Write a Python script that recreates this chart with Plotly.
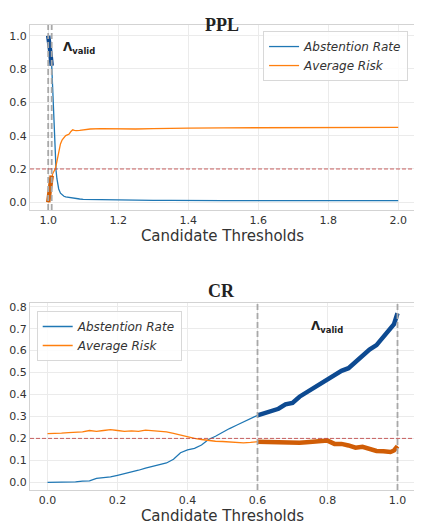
import plotly.graph_objects as go

# ---------------- data ----------------
ppl_thresholds = [1.0, 1.0025, 1.005, 1.0075, 1.01, 1.0125, 1.015, 1.0175, 1.02, 1.0225,
                  1.025, 1.03, 1.035, 1.04, 1.045, 1.05, 1.055, 1.06, 1.065, 1.07,
                  1.075, 1.08, 1.09, 1.1, 1.12, 1.15, 1.2, 1.25, 1.3, 1.35,
                  1.4, 1.5, 1.6, 1.7, 1.8, 1.9, 2.0]
ppl_abstention = [1.0, 0.97, 0.92, 0.87, 0.82, 0.7, 0.55, 0.38, 0.26, 0.19,
                  0.14, 0.08, 0.055, 0.042, 0.036, 0.032, 0.03, 0.029, 0.028, 0.028,
                  0.026, 0.024, 0.02, 0.018, 0.017, 0.016, 0.015, 0.013, 0.012, 0.012,
                  0.01, 0.01, 0.01, 0.01, 0.01, 0.01, 0.01]
ppl_risk = [0.0, 0.04, 0.08, 0.12, 0.16, 0.17, 0.18, 0.19, 0.2, 0.22,
            0.25, 0.31, 0.35, 0.375, 0.39, 0.4, 0.405, 0.41, 0.425, 0.435,
            0.432, 0.43, 0.432, 0.435, 0.44, 0.442, 0.44, 0.44, 0.442, 0.445,
            0.445, 0.447, 0.448, 0.448, 0.449, 0.45, 0.45]
ppl_valid = [1.0, 1.01]

cr_thresholds = [0.0, 0.02, 0.04, 0.06, 0.08, 0.10, 0.12, 0.14, 0.16, 0.18,
                 0.20, 0.22, 0.24, 0.26, 0.28, 0.30, 0.32, 0.34, 0.36, 0.38,
                 0.40, 0.42, 0.44, 0.46, 0.48, 0.50, 0.52, 0.54, 0.56, 0.58,
                 0.60, 0.62, 0.64, 0.66, 0.68, 0.70, 0.72, 0.74, 0.76, 0.78,
                 0.80, 0.82, 0.84, 0.86, 0.88, 0.90, 0.92, 0.94, 0.96, 0.98,
                 0.99, 1.0]
cr_abstention = [0.0, 0.0, 0.0, 0.0, 0.002, 0.005, 0.007, 0.018, 0.02, 0.025,
                 0.032, 0.04, 0.045, 0.055, 0.065, 0.072, 0.08, 0.088, 0.105, 0.135,
                 0.148, 0.155, 0.17, 0.195, 0.21, 0.228, 0.245, 0.26, 0.275, 0.29,
                 0.305, 0.315, 0.328, 0.335, 0.355, 0.362, 0.39, 0.41, 0.43, 0.448,
                 0.47, 0.49, 0.508, 0.52, 0.55, 0.575, 0.605, 0.625, 0.665, 0.70,
                 0.72, 0.77]
cr_risk = [0.222, 0.222, 0.224, 0.226, 0.228, 0.23, 0.236, 0.232, 0.236, 0.24,
           0.236, 0.232, 0.234, 0.232, 0.238, 0.236, 0.235, 0.23, 0.223, 0.215,
           0.207, 0.2, 0.195, 0.19, 0.187, 0.186, 0.184, 0.182, 0.18, 0.182,
           0.185, 0.184, 0.18, 0.179, 0.178, 0.178, 0.18, 0.182, 0.185, 0.186,
           0.19, 0.175, 0.175, 0.168, 0.158, 0.162, 0.15, 0.143, 0.142, 0.138,
           0.145, 0.165]
cr_valid = [0.6, 1.0]

alpha = 0.2
series_names = ["Abstention Rate", "Average Risk"]
titles = ["PPL", "CR"]
x_title = "Candidate Thresholds"

# ---------------- style ----------------
BLUE = "#1f77b4"
ORANGE = "#ff7f0e"
DBLUE = "#0d4a91"
DORANGE = "#d05d06"
GRID = "#ebebeb"
SPINE = "#d3d3d3"
TICKFONT = dict(family="DejaVu Sans", size=11, color="#333333")

fig = go.Figure()


def add_panel(xs, abst, risk, valid, xa, ya, legend):
    fig.add_trace(go.Scatter(x=xs, y=abst, mode="lines", name=series_names[0],
                             line=dict(color=BLUE, width=1.3),
                             xaxis=xa, yaxis=ya, legend=legend))
    fig.add_trace(go.Scatter(x=xs, y=risk, mode="lines", name=series_names[1],
                             line=dict(color=ORANGE, width=1.3),
                             xaxis=xa, yaxis=ya, legend=legend))
    idx = [i for i, v in enumerate(xs) if valid[0] - 1e-9 <= v <= valid[1] + 1e-9]
    vx = [xs[i] for i in idx]
    fig.add_trace(go.Scatter(x=vx, y=[abst[i] for i in idx], mode="lines",
                             line=dict(color=DBLUE, width=4.5), showlegend=False,
                             xaxis=xa, yaxis=ya))
    fig.add_trace(go.Scatter(x=vx, y=[risk[i] for i in idx], mode="lines",
                             line=dict(color=DORANGE, width=4.5), showlegend=False,
                             xaxis=xa, yaxis=ya))


add_panel(ppl_thresholds, ppl_abstention, ppl_risk, ppl_valid, "x", "y", "legend")
add_panel(cr_thresholds, cr_abstention, cr_risk, cr_valid, "x2", "y2", "legend2")

shapes = []
for xref, yref, valid in [("x", "y", ppl_valid), ("x2", "y2", cr_valid)]:
    for v in valid:
        shapes.append(dict(type="line", xref=xref, yref=yref + " domain", x0=v, x1=v,
                           y0=0, y1=1, line=dict(color="#a8a8a8", width=1.8, dash="6px,3px"),
                           layer="above"))
    shapes.append(dict(type="line", xref=xref + " domain", yref=yref, x0=0, x1=1,
                       y0=alpha, y1=alpha,
                       line=dict(color="rgba(192,70,70,0.85)", width=1.0, dash="4px,2px"),
                       layer="above"))

axis_common = dict(showgrid=True, gridcolor=GRID, gridwidth=1, zeroline=False,
                   showline=True, linecolor=SPINE, linewidth=1.2, mirror=True,
                   ticks="", tickfont=TICKFONT, tickformat=".1f", automargin=False)
title_font = dict(family="DejaVu Sans", size=15, color="#333333")

# the page body has an 8px margin, so the figure is 8px smaller on each side
fig.update_layout(
    width=414, height=518,
    margin=dict(l=22, r=7, t=17, b=36),
    paper_bgcolor="white", plot_bgcolor="white",
    showlegend=True,
    xaxis=dict(domain=[0, 1], range=[0.948, 2.048], dtick=0.2, tick0=1.0,
               title=dict(text=x_title, font=title_font, standoff=4),
               **axis_common),
    yaxis=dict(domain=[0.6022, 1.0], range=[-0.046, 1.064], dtick=0.2, tick0=0,
               **axis_common),
    xaxis2=dict(domain=[0, 1], range=[-0.05, 1.05], dtick=0.2, tick0=0,
                anchor="y2",
                title=dict(text=x_title, font=title_font, standoff=4),
                **axis_common),
    yaxis2=dict(domain=[0.0, 0.4022], range=[-0.035, 0.817], dtick=0.1, tick0=0,
                anchor="x2", **axis_common),
    legend=dict(x=0.982, y=0.987, xanchor="right", yanchor="top",
                bgcolor="rgba(255,255,255,0.85)", bordercolor="#d8d8d8", borderwidth=1,
                font=dict(family="DejaVu Sans", size=12, color="#333333", style="italic"),
                itemwidth=30, tracegroupgap=0),
    legend2=dict(x=0.0174, y=0.385, xanchor="left", yanchor="top",
                 bgcolor="rgba(255,255,255,0.85)", bordercolor="#d8d8d8", borderwidth=1,
                 font=dict(family="DejaVu Sans", size=12, color="#333333", style="italic"),
                 itemwidth=30, tracegroupgap=0),
    shapes=shapes,
)

annotations = [
    dict(text="<b>" + titles[0] + "</b>", xref="paper", yref="paper", x=0.4987, y=1.0258,
         showarrow=False, font=dict(family="Liberation Serif", size=18, color="#222222")),
    dict(text="<b>" + titles[1] + "</b>", xref="paper", yref="paper", x=0.4987, y=0.428,
         showarrow=False, font=dict(family="Liberation Serif", size=18, color="#222222")),
    dict(text="<b>Λ<sub>valid</sub></b>", xref="x", yref="y", x=1.088, y=0.926,
         showarrow=False, font=dict(family="DejaVu Sans", size=12, color="#222222")),
    dict(text="<b>Λ<sub>valid</sub></b>", xref="x2", yref="y2", x=0.798, y=0.707,
         showarrow=False, font=dict(family="DejaVu Sans", size=12, color="#222222")),
    dict(text="<i>α</i>", xref="paper", yref="y", x=1.0, y=alpha, xanchor="left",
         yanchor="bottom", yshift=-2, showarrow=False,
         font=dict(family="DejaVu Serif", size=13, color="#8b1010")),
    dict(text="<i>α</i>", xref="paper", yref="y2", x=1.0, y=alpha, xanchor="left",
         yanchor="bottom", yshift=-2, showarrow=False,
         font=dict(family="DejaVu Serif", size=13, color="#8b1010")),
]
fig.update_layout(annotations=annotations)

fig.write_html("out.html")
